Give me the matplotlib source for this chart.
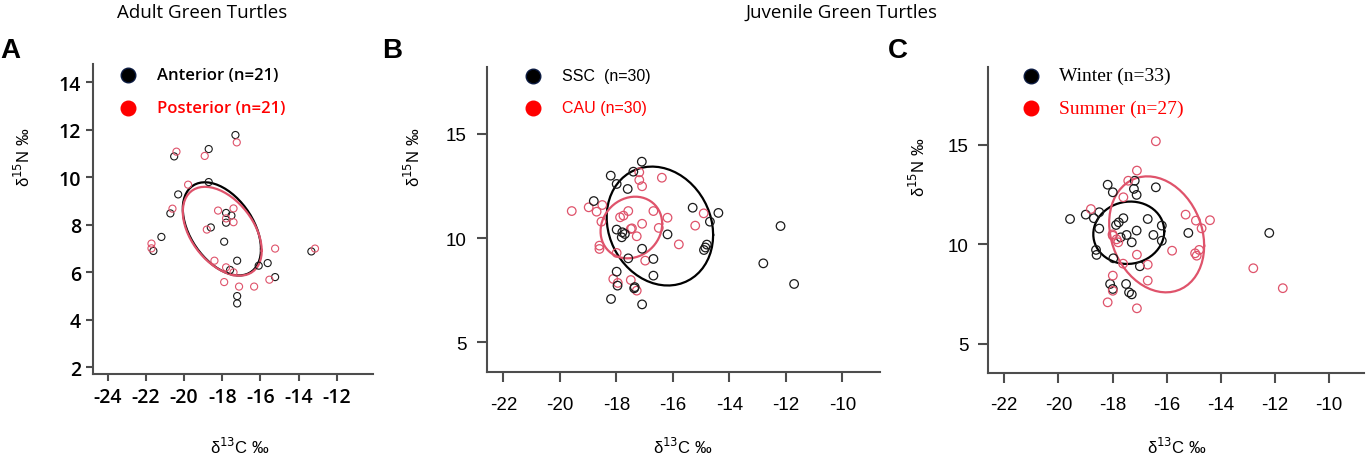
import numpy as np
import matplotlib
matplotlib.use("Agg")
import matplotlib.pyplot as plt

plt.rcParams["axes.unicode_minus"] = False

W, H = 1367, 456
BLACK = "#1a1a1a"
PINK = "#DF536B"
AXC = "#4d4d4d"

# ---- Panel A: adult turtles (anterior vs posterior scutes) ----
ant_c = [-17.31, -18.71, -20.52, -18.71, -20.31, -20.72, -17.80, -17.52, -17.80, -18.60, -21.19,
         -17.90, -21.61, -13.33, -17.22, -15.62, -16.09, -17.59, -15.23, -17.22, -17.22]
ant_n = [11.78, 11.19, 10.88, 9.80, 9.28, 8.48, 8.50, 8.39, 8.09, 7.89, 7.49,
         7.29, 6.90, 6.88, 6.49, 6.39, 6.28, 6.10, 5.80, 5.00, 4.69]
post_c = [-17.24, -20.40, -18.92, -19.79, -20.61, -18.22, -17.41, -17.41, -17.80, -18.81, -21.71,
          -21.71, -13.14, -15.23, -18.41, -17.80, -17.41, -17.90, -17.12, -16.33, -15.53]
post_n = [11.47, 11.08, 10.90, 9.69, 8.68, 8.60, 8.69, 8.11, 8.27, 7.80, 7.21,
          7.01, 7.00, 7.00, 6.49, 6.21, 6.00, 5.59, 5.40, 5.40, 5.69]
# ellipse: centre C, centre N, var C, var N, cov
ant_sea = [-18.02, 7.83, 4.20, 3.85, -1.75]
post_sea = [-18.00, 7.73, 4.28, 3.50, -1.70]

# ---- Panel B: juveniles SSC vs CAU ----
ssc_c = [-17.10, -18.20, -17.40, -17.99, -17.60, -18.80, -15.30, -14.39, -14.69, -17.99,
         -17.79, -17.81, -16.19, -14.80, -14.90, -14.85, -17.09, -17.58, -16.69, -16.69,
         -17.99, -17.96, -17.37, -17.35, -18.19, -17.09, -12.80, -12.19, -11.71, -17.70]
ssc_n = [13.67, 13.00, 13.19, 12.60, 12.36, 11.78, 11.46, 11.21, 10.79, 10.41,
         10.28, 10.04, 10.18, 9.69, 9.43, 9.55, 9.49, 9.03, 9.00, 8.20,
         8.39, 7.72, 7.59, 7.65, 7.08, 6.82, 8.79, 10.58, 7.80, 10.20]
cau_c = [-19.58, -18.98, -18.70, -18.50, -18.53, -18.60, -18.60, -17.87, -17.75, -17.58,
         -17.45, -17.28, -17.09, -16.69, -16.50, -16.19, -17.19, -17.19, -17.09, -16.39,
         -14.91, -15.21, -15.79, -16.98, -18.11, -17.49, -17.28, -17.95, -17.99, -17.49]
cau_n = [11.30, 11.48, 11.27, 11.59, 10.79, 9.64, 9.48, 11.00, 11.08, 11.30,
         10.47, 10.09, 10.69, 11.30, 10.49, 10.98, 13.16, 12.79, 12.49, 12.90,
         11.19, 10.60, 9.70, 8.92, 8.04, 7.99, 7.48, 7.85, 9.29, 10.44]
ssc_sea = [-16.46, 10.58, 3.55, 8.15, -0.80]
cau_sea = [-17.47, 10.51, 1.19, 2.19, 0.20]

# ---- Panel C: juveniles winter vs summer ----
win_c = [-19.57, -18.99, -18.69, -18.49, -18.49, -18.61, -18.59, -18.18, -17.99, -17.18,
         -17.21, -17.11, -16.40, -17.87, -17.77, -17.60, -17.70, -17.48, -17.11, -17.29,
         -16.70, -16.49, -16.18, -16.18, -15.20, -17.97, -16.99, -18.09, -17.99, -17.50,
         -17.39, -17.29, -12.21]
win_n = [11.27, 11.49, 11.31, 11.61, 10.79, 9.72, 9.47, 12.99, 12.61, 13.19,
         12.78, 12.48, 12.86, 10.97, 11.10, 11.31, 10.35, 10.47, 10.69, 10.10,
         11.27, 10.47, 10.94, 10.18, 10.57, 9.30, 8.90, 8.01, 7.76, 8.01,
         7.59, 7.49, 10.57]
sum_c = [-16.40, -17.10, -17.42, -17.60, -18.80, -17.99, -17.79, -17.85, -17.10, -17.61,
         -16.70, -16.70, -17.99, -17.99, -18.18, -17.10, -15.80, -15.30, -14.92, -14.71,
         -14.40, -14.80, -14.89, -12.80, -11.71, -14.95, -18.00]
sum_n = [15.17, 13.70, 13.19, 12.36, 11.77, 10.43, 10.10, 10.25, 9.48, 9.03,
         8.98, 8.18, 8.43, 7.67, 7.09, 6.79, 9.68, 11.49, 11.19, 10.80,
         11.21, 9.72, 9.43, 8.80, 7.80, 9.55, 10.50]
win_sea = [-17.40, 10.58, 1.72, 2.45, 0.10]
sum_sea = [-16.37, 10.50, 3.08, 8.47, -1.00]


def fx(X):
    return X / W


def fy(Y):
    return 1 - Y / H


def ellipse_line(ax, sea, color):
    cov = np.array([[sea[2], sea[4]], [sea[4], sea[3]]])
    L = np.linalg.cholesky(cov)
    t = np.linspace(0, 2 * np.pi, 60)
    pts = L @ np.vstack([np.cos(t), np.sin(t)])
    ax.plot(sea[0] + pts[0], sea[1] + pts[1], color=color, lw=1.6)


def style_axes(ax, xlim, ylim, xt, yt, font, weight, size, tlen, xpad, ypad):
    ax.set_xlim(*xlim)
    ax.set_ylim(*ylim)
    ax.set_xticks(xt)
    ax.set_yticks(yt)
    for s in ("top", "right"):
        ax.spines[s].set_visible(False)
    for s in ("left", "bottom"):
        ax.spines[s].set_color(AXC)
        ax.spines[s].set_linewidth(1.5)
    ax.tick_params(direction="out", length=tlen, width=1.5, color=AXC)
    ax.tick_params(axis="x", pad=xpad)
    ax.tick_params(axis="y", pad=ypad)
    for lab in ax.get_xticklabels() + ax.get_yticklabels():
        lab.set_fontfamily(font)
        lab.set_fontweight(weight)
        lab.set_fontsize(size)
        lab.set_color("black")
    ax.patch.set_alpha(0)


def legend_rows(fig, mx, my, tx, labels, font, weight, size):
    cols = [("black", "#0b1a40"), ("#ff0000", "#ff0000")]
    tcols = ["black", "#ff0000"]
    for i, lab in enumerate(labels):
        fig.add_artist(plt.Line2D([fx(mx)], [fy(my[i])], marker="o", ms=10.5,
                                  mfc=cols[i][0], mec=cols[i][1], mew=1, ls="none"))
        fig.text(fx(tx), fy(my[i]), lab, color=tcols[i], family=font,
                 weight=weight, size=size, va="center", ha="left")


fig = plt.figure(figsize=(W / 100, H / 100), dpi=100)

axA = fig.add_axes([fx(92.7), fy(375), (373 - 92.7) / W, (375 - 65) / H])
axB = fig.add_axes([fx(486.7), fy(373.3), (880 - 486.7) / W, (373.3 - 68.3) / H])
axC = fig.add_axes([fx(988.3), fy(374.3), (1364 - 988.3) / W, (374.3 - 68.3) / H])

# scatter points
axA.scatter(ant_c, ant_n, s=26, facecolors="none", edgecolors=BLACK, linewidths=0.8, zorder=3)
axA.scatter(post_c, post_n, s=26, facecolors="none", edgecolors=PINK, linewidths=0.8, zorder=3)
ellipse_line(axA, ant_sea, "black")
ellipse_line(axA, post_sea, PINK)

axB.scatter(cau_c, cau_n, s=38, facecolors="none", edgecolors=PINK, linewidths=0.9, zorder=3)
axB.scatter(ssc_c, ssc_n, s=38, facecolors="none", edgecolors=BLACK, linewidths=0.9, zorder=3)
ellipse_line(axB, ssc_sea, "black")
ellipse_line(axB, cau_sea, PINK)

axC.scatter(win_c, win_n, s=38, facecolors="none", edgecolors=BLACK, linewidths=0.9, zorder=3)
axC.scatter(sum_c, sum_n, s=38, facecolors="none", edgecolors=PINK, linewidths=0.9, zorder=3)
ellipse_line(axC, win_sea, "black")
ellipse_line(axC, sum_sea, PINK)

style_axes(axA, (-24.79, -10.1), (1.72, 14.77), range(-24, -11, 2), range(2, 15, 2),
           "Open Sans", "semibold", 14, 5, 4.5, 3.5)
style_axes(axB, (-22.59, -8.67), (3.56, 18.2), range(-22, -9, 2), [5, 10, 15],
           "Liberation Sans", "normal", 13.5, 7, 10, 7.5)
style_axes(axC, (-22.59, -8.71), (3.53, 18.88), range(-22, -9, 2), [5, 10, 15],
           "Liberation Sans", "normal", 13.5, 7, 9.5, 7)

# legends
legend_rows(fig, 128, [76, 109], 156.7, ["Anterior (n=21)", "Posterior (n=21)"],
            "Open Sans", "semibold", 12)
legend_rows(fig, 532.5, [76.7, 109], 562.3, ["SSC  (n=30)", "CAU (n=30)"],
            "Liberation Sans", "normal", 11.5)
legend_rows(fig, 1031, [76.7, 109], 1059, ["Winter (n=33)", "Summer (n=27)"],
            "Liberation Serif", "normal", 14)

# group titles and panel letters
fig.text(fx(202), fy(13), "Adult Green Turtles", ha="center", va="center",
         family="Open Sans", size=13.5)
fig.text(fx(842), fy(13), "Juvenile Green Turtles", ha="center", va="center",
         family="Open Sans", size=13.5)
for X, letter in [(0, "A"), (382.5, "B"), (888, "C")]:
    fig.text(fx(X), fy(51.5), letter, ha="left", va="center",
             family="Liberation Sans", weight="bold", size=20)

# axis labels
for X, Y in [(240, 447), (683, 447), (1177, 447)]:
    fig.text(fx(X), fy(Y), "δ$^{13}$C ‰", ha="center", va="center", size=12,
             family="Liberation Sans")
for X, Y in [(23, 157), (413, 157), (918, 167)]:
    fig.text(fx(X), fy(Y), "δ$^{15}$N ‰", ha="center", va="center", size=12,
             rotation=90, family="Liberation Sans")

fig.savefig("out.png", dpi=100)
